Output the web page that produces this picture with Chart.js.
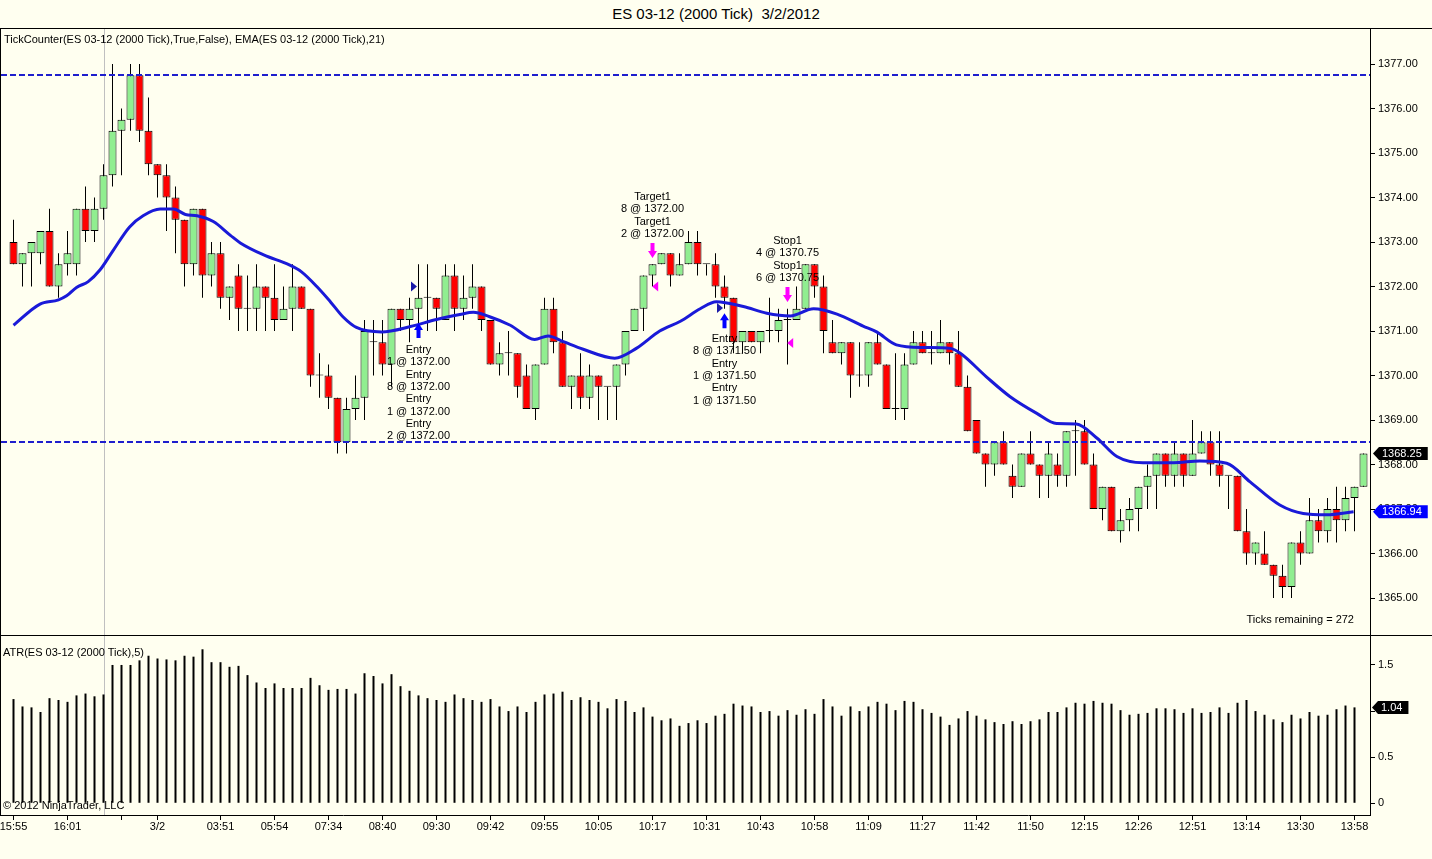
<!DOCTYPE html>
<html>
<head>
<meta charset="utf-8">
<title>ES 03-12 (2000 Tick) 3/2/2012</title>
<script src="https://cdn.jsdelivr.net/npm/chart.js@4.4.1/dist/chart.umd.min.js"></script>
<style>
  body { margin: 0; width: 1432px; height: 859px; overflow: hidden; position: relative;
         background: #fffff0; font-family: "Liberation Sans", Arial, sans-serif; color: #000; }
  .txt { position: absolute; font-size: 11px; white-space: pre; line-height: 13px; }
  .rule { position: absolute; background: #000; }
  #title { position: absolute; top: 5px; left: 0; width: 1432px; text-align: center; font-size: 15px; white-space: pre; }
  canvas { position: absolute; left: 0; }
</style>
</head>
<body>
<div id="title">ES 03-12 (2000 Tick)  3/2/2012</div>
<canvas id="priceChart" width="1432" height="607" style="top:28px"></canvas>
<canvas id="atrChart" width="1432" height="223" style="top:636px"></canvas>
<div class="rule" style="left:0;top:28px;width:1432px;height:1px"></div>
<div class="rule" style="left:0;top:635px;width:1432px;height:1px"></div>
<div class="rule" style="left:0;top:28px;width:1px;height:788px"></div>
<div class="txt" style="left:4px;top:33px">TickCounter(ES 03-12 (2000 Tick),True,False), EMA(ES 03-12 (2000 Tick),21)</div>
<div class="txt" style="left:3px;top:646px">ATR(ES 03-12 (2000 Tick),5)</div>
<div class="txt" style="left:3px;top:799px">© 2012 NinjaTrader, LLC</div>
<div class="txt" style="right:78px;top:613px">Ticks remaining = 272</div>
<script>
// 2000-tick bars (0.25 point ticks)
const opens = [
  1373, 1372.5, 1372.75, 1372.75, 1373.25, 1372, 1372.5, 1372.5, 1373.75, 1373.25,
  1373.75, 1374.5, 1375.5, 1375.75, 1376.75, 1375.5, 1374.75, 1374.5, 1374, 1373.5,
  1372.5, 1373.75, 1372.25, 1372.75, 1371.75, 1372.25, 1371.5, 1371.5, 1372, 1371.75,
  1371.25, 1371.5, 1372, 1371.5, 1370, 1370, 1369.5, 1368.5, 1369.25, 1369.5,
  1370.75, 1370.75, 1370.25, 1371.5, 1371.25, 1371.5, 1371.75, 1371.75, 1371.25, 1372.25,
  1371.5, 1371.75, 1372, 1371.25, 1370.25, 1370.5, 1370.5, 1370, 1369.25, 1370.25,
  1371.5, 1370.75, 1369.75, 1370, 1369.5, 1370, 1369.75, 1369.75, 1370.25, 1371,
  1371.5, 1372.25, 1372.5, 1372.75, 1372.25, 1372.5, 1373, 1372.5, 1372.5, 1372,
  1371.75, 1370.75, 1371, 1370.75, 1371, 1371, 1371.25, 1371.25, 1371.5, 1372.5,
  1372, 1370.75, 1370.5, 1370.75, 1370, 1370, 1370.75, 1370.25, 1369.25, 1369.25,
  1370.25, 1370.75, 1370.5, 1370.5, 1370.75, 1370.5, 1369.75, 1369, 1368.25, 1368,
  1368.5, 1367.75, 1367.5, 1368.25, 1368, 1367.75, 1368, 1367.75, 1368.75, 1368.75,
  1368, 1367, 1367.5, 1366.5, 1366.75, 1367, 1367.5, 1367.75, 1368.25, 1367.75,
  1368.25, 1367.75, 1368.25, 1368.5, 1368, 1367.75, 1367.75, 1366.5, 1366, 1366,
  1365.75, 1365.5, 1365.25, 1366.25, 1366, 1366.75, 1366.5, 1367, 1366.75, 1367.25,
  1367.5
];
const highs = [
  1373.5, 1372.75, 1373, 1373.25, 1373.75, 1372.75, 1373.25, 1373.75, 1374.25, 1374,
  1374.75, 1377, 1376, 1377, 1377, 1376.25, 1374.75, 1374.75, 1374.25, 1373.5,
  1373.75, 1373.75, 1373, 1373, 1372, 1372.5, 1372.25, 1372.5, 1372, 1372.5,
  1372, 1372.5, 1372, 1371.5, 1370.5, 1370.25, 1369.5, 1369.5, 1370, 1371.25,
  1371.25, 1371.25, 1371.5, 1371.5, 1371.75, 1372.5, 1372.5, 1371.75, 1372.5, 1372.5,
  1372.25, 1372.5, 1372, 1371.25, 1370.75, 1371, 1370.5, 1370.25, 1370.25, 1371.75,
  1371.75, 1371, 1370, 1370.5, 1370.25, 1370, 1369.75, 1370.25, 1371, 1371.5,
  1372.25, 1372.5, 1372.75, 1372.75, 1372.75, 1373.25, 1373.25, 1372.5, 1372.75, 1372.25,
  1371.75, 1371, 1371, 1371, 1371.75, 1371.5, 1371.5, 1372, 1372.5, 1372.5,
  1372.25, 1371.25, 1370.75, 1370.75, 1370.75, 1370.75, 1371, 1370.25, 1370.5, 1370.5,
  1371, 1371, 1371, 1371.25, 1370.75, 1371, 1370, 1369, 1368.25, 1368.5,
  1368.75, 1368, 1368.25, 1368.75, 1368, 1368.5, 1368.25, 1368.75, 1369, 1369,
  1368.25, 1367.5, 1367.5, 1367, 1367.25, 1367.5, 1368, 1368.25, 1368.25, 1368.5,
  1368.25, 1369, 1368.75, 1368.75, 1368.75, 1367.75, 1367.75, 1367, 1366.25, 1366.5,
  1365.75, 1365.75, 1366.25, 1366.5, 1367.25, 1367, 1367.25, 1367.5, 1367.5, 1367.5,
  1368.25
];
const lows = [
  1372.5, 1372, 1372, 1372.5, 1372, 1371.75, 1372.25, 1372.25, 1373, 1373,
  1373.5, 1374.25, 1374.5, 1375.5, 1375.25, 1374.5, 1374, 1373.25, 1372.75, 1372,
  1372.25, 1371.75, 1372, 1371.5, 1371.25, 1371, 1371, 1371, 1371, 1371,
  1371.25, 1371, 1371.5, 1369.75, 1369.5, 1369.25, 1368.25, 1368.25, 1369, 1369,
  1370, 1370, 1369.75, 1371, 1370.75, 1371, 1371, 1371, 1371.25, 1371,
  1371.25, 1371.5, 1371, 1370.25, 1370, 1370, 1369.5, 1369.25, 1369, 1370.25,
  1370.5, 1369.75, 1369.25, 1369.25, 1369.25, 1369, 1369, 1369, 1370, 1371,
  1371, 1372, 1372.5, 1372, 1372.25, 1372.5, 1372.25, 1372.25, 1371.75, 1371.5,
  1370.5, 1370.5, 1370.75, 1370.5, 1370.75, 1370.75, 1370.25, 1371.25, 1371.5, 1371.75,
  1370.5, 1370.5, 1370.25, 1369.5, 1369.75, 1369.75, 1370.25, 1369.25, 1369, 1369,
  1370.25, 1370.5, 1370.25, 1370.5, 1370.25, 1369.75, 1368.75, 1368.25, 1367.5, 1367.75,
  1368, 1367.25, 1367.5, 1368, 1367.25, 1367.25, 1367.5, 1367.5, 1367.75, 1368,
  1367, 1366.75, 1366.5, 1366.25, 1366.5, 1366.5, 1367, 1367, 1367.5, 1367.5,
  1367.5, 1367.75, 1368.25, 1367.75, 1367.5, 1367, 1366.5, 1365.75, 1365.75, 1365.75,
  1365, 1365, 1365, 1365.75, 1366, 1366.25, 1366.25, 1366.25, 1366.5, 1366.5,
  1367.5
];
const closes = [
  1372.5, 1372.75, 1373, 1373.25, 1372, 1372.5, 1372.75, 1373.75, 1373.25, 1373.75,
  1374.5, 1375.5, 1375.75, 1376.75, 1375.5, 1374.75, 1374.5, 1374, 1373.5, 1372.5,
  1373.75, 1372.25, 1372.75, 1371.75, 1372, 1371.5, 1371.5, 1372, 1371.75, 1371.25,
  1371.5, 1372, 1371.5, 1370, 1370, 1369.5, 1368.5, 1369.25, 1369.5, 1371,
  1370.75, 1370.25, 1371.5, 1371.25, 1371.5, 1371.75, 1371.75, 1371.5, 1372.25, 1371.5,
  1371.75, 1372, 1371.25, 1370.25, 1370.5, 1370.5, 1369.75, 1369.25, 1370.25, 1371.5,
  1370.75, 1369.75, 1370, 1369.5, 1370, 1369.75, 1369.75, 1370.25, 1371, 1371.5,
  1372.25, 1372.5, 1372.75, 1372.25, 1372.5, 1373, 1372.5, 1372.5, 1372, 1371.75,
  1370.75, 1371, 1370.75, 1371, 1371, 1371.25, 1371.25, 1371.5, 1372.5, 1372,
  1371, 1370.5, 1370.75, 1370, 1370, 1370.75, 1370.25, 1369.25, 1369.25, 1370.25,
  1370.75, 1370.5, 1370.5, 1370.75, 1370.5, 1369.75, 1368.75, 1368.25, 1368, 1368.5,
  1368, 1367.5, 1368.25, 1368, 1367.75, 1368.25, 1367.75, 1368.75, 1368.75, 1368,
  1367, 1367.5, 1366.5, 1366.75, 1367, 1367.5, 1367.75, 1368.25, 1367.75, 1368.25,
  1367.75, 1368.25, 1368.5, 1368, 1367.75, 1367.75, 1366.5, 1366, 1366.25, 1365.75,
  1365.5, 1365.25, 1366.25, 1366, 1366.75, 1366.5, 1367, 1366.75, 1367.25, 1367.5,
  1368.25
];

// ATR(5) per bar; the forming last bar has none yet
const atrValues = [
  1.13, 1.05, 1.04, 0.99, 1.14, 1.12, 1.10, 1.17, 1.19, 1.16,
  1.18, 1.50, 1.50, 1.50, 1.55, 1.60, 1.57, 1.56, 1.55, 1.60,
  1.59, 1.67, 1.53, 1.53, 1.48, 1.49, 1.39, 1.31, 1.25, 1.30,
  1.25, 1.25, 1.25, 1.36, 1.28, 1.23, 1.24, 1.24, 1.19, 1.41,
  1.38, 1.30, 1.40, 1.27, 1.22, 1.17, 1.14, 1.12, 1.10, 1.18,
  1.14, 1.12, 1.10, 1.13, 1.05, 1.00, 1.05, 0.99, 1.10, 1.18,
  1.19, 1.21, 1.12, 1.15, 1.12, 1.10, 1.03, 1.13, 1.11, 0.99,
  1.04, 0.94, 0.90, 0.92, 0.84, 0.87, 0.90, 0.87, 0.95, 0.97,
  1.08, 1.06, 1.05, 0.99, 1.00, 0.95, 1.01, 0.96, 1.02, 0.97,
  1.13, 1.05, 0.95, 1.05, 1.00, 1.05, 1.10, 1.08, 1.01, 1.11,
  1.10, 1.02, 0.98, 0.94, 0.85, 0.92, 1.00, 0.95, 0.91, 0.88,
  0.86, 0.89, 0.86, 0.89, 0.91, 0.99, 0.99, 1.04, 1.09, 1.08,
  1.11, 1.09, 1.08, 1.01, 0.96, 0.97, 0.98, 1.03, 1.03, 1.02,
  0.98, 1.03, 0.98, 0.99, 1.04, 0.98, 1.09, 1.12, 1.00, 0.96,
  0.91, 0.88, 0.96, 0.92, 0.99, 0.95, 0.96, 1.02, 1.06, 1.04,
  null
];

// EMA(21) line, sampled along the drawn curve (bar position, price)
const emaAt = [
  1, 3.9, 6, 6.9, 8, 9.3, 10.6, 12.1, 13.9, 15.4,
  17.3, 18.8, 20.1, 21.4, 23.2, 25.1, 26.2, 28.8, 31.7, 33.0,
  34.7, 36.2, 37.6, 39.1, 41.9, 45.1, 48.0, 50.6, 52.1, 53.9,
  56.2, 58.9, 60.4, 62.1, 64.3, 67.8, 70.2, 72.8, 75.1, 77.3,
  79.1, 82.1, 84.7, 87.3, 89.9, 92.5, 95.4, 96.9, 99.1, 102.1,
  105.1, 106.2, 109.1, 111.7, 114.7, 116.9, 119.1, 121.4, 123.6, 126.5,
  129.9, 132.8, 135.8, 138.4, 141.7, 144.3, 146.9, 149.9
];
const emaValues = [
  1371.13, 1371.6, 1371.70, 1371.79, 1371.98, 1372.11, 1372.37, 1372.82, 1373.34, 1373.59,
  1373.74, 1373.74, 1373.62, 1373.59, 1373.46, 1373.15, 1372.98, 1372.71, 1372.48, 1372.33,
  1372.0, 1371.66, 1371.32, 1371.08, 1370.98, 1371.10, 1371.26, 1371.37, 1371.42, 1371.32,
  1371.13, 1370.81, 1370.89, 1370.76, 1370.59, 1370.39, 1370.61, 1371.00, 1371.22, 1371.50,
  1371.66, 1371.55, 1371.40, 1371.34, 1371.50, 1371.38, 1371.11, 1370.98, 1370.69, 1370.63,
  1370.61, 1370.50, 1369.97, 1369.53, 1369.15, 1368.92, 1368.91, 1368.59, 1368.18, 1368.04,
  1368.04, 1368.08, 1368.03, 1367.61, 1367.09, 1366.90, 1366.87, 1366.94
];

const priceTicks = [1365, 1366, 1367, 1368, 1369, 1370, 1371, 1372, 1373, 1374, 1375, 1376, 1377];
const atrTicks = [0, 0.5, 1, 1.5];
const timeTickAt = [1, 7, 13, 17, 24, 30, 36, 42, 48, 54, 60, 66, 72, 78, 84, 90, 96, 102, 108, 114, 120, 126, 132, 138, 144, 150];
const timeTickLabels = ['15:55', '16:01', '', '3/2', '03:51', '05:54', '07:34', '08:40', '09:30', '09:42', '09:55', '10:05', '10:17',
  '10:31', '10:43', '10:58', '11:09', '11:27', '11:42', '11:50', '12:15', '12:26', '12:51', '13:14', '13:30', '13:58'];
const levelLines = [1376.75, 1368.5];
const sessionBreakAt = 11;

// strategy executions
const markers = [
  { kind: 'up', at: 46, price: 1371.18, color: '#0000ff' },
  { kind: 'right', at: 45.5, price: 1372.0, color: '#1a1aa8' },
  { kind: 'down', at: 72, price: 1372.64, color: '#ff00ff' },
  { kind: 'left', at: 72.3, price: 1372.0, color: '#ff00ff' },
  { kind: 'up', at: 80, price: 1371.4, color: '#0000ff' },
  { kind: 'right', at: 79.5, price: 1371.52, color: '#1a1aa8' },
  { kind: 'down', at: 87, price: 1371.65, color: '#ff00ff' },
  { kind: 'left', at: 87.3, price: 1370.73, color: '#ff00ff' }
];
const notes = [
  { at: 72, price: 1374.01, lines: ['Target1', '8 @ 1372.00', 'Target1', '2 @ 1372.00'] },
  { at: 46, price: 1370.57, lines: ['Entry', '1 @ 1372.00', 'Entry', '8 @ 1372.00', 'Entry', '1 @ 1372.00', 'Entry', '2 @ 1372.00'] },
  { at: 80, price: 1370.82, lines: ['Entry', '8 @ 1371.50', 'Entry', '1 @ 1371.50', 'Entry', '1 @ 1371.50'] },
  { at: 87, price: 1373.02, lines: ['Stop1', '4 @ 1370.75', 'Stop1', '6 @ 1370.75'] }
];

const FONT = '"Liberation Sans", Arial, sans-serif';
Chart.defaults.font.family = FONT;
Chart.defaults.font.size = 11;
Chart.defaults.color = '#000';

const barIndex = closes.map((_, i) => i + 1);
const xMin = -0.3889, xMax = 151.7222;
const upColor = '#90ee90', downColor = '#ff0000';

// keep the plot area at its full size (no label overhang padding)
function fixVertical(s) { s.width = 62; s.paddingTop = 0; s.paddingBottom = 0; }
function fixHorizontal(s) { s.height = 44; s.paddingLeft = 0; s.paddingRight = 0; }

function drawTag(ctx, left, mid, text, fill) {
  ctx.font = '11px ' + FONT;
  const w = ctx.measureText(text).width + 9;
  ctx.fillStyle = fill;
  ctx.beginPath();
  ctx.moveTo(left, mid);
  ctx.lineTo(left + 6, mid - 6.5);
  ctx.lineTo(left + 6 + w, mid - 6.5);
  ctx.lineTo(left + 6 + w, mid + 6.5);
  ctx.lineTo(left + 6, mid + 6.5);
  ctx.closePath();
  ctx.fill();
  ctx.fillStyle = '#fff';
  ctx.textAlign = 'left';
  ctx.textBaseline = 'middle';
  ctx.fillText(text, left + 9, mid + 0.5);
}

function drawArrow(ctx, cx, tipY, dir, color) {
  // dir 1: points up (shaft below tip), -1: points down
  const len = 15, headH = 7, headW = 4.5, shaftW = 2;
  ctx.fillStyle = color;
  ctx.beginPath();
  ctx.moveTo(cx, tipY);
  ctx.lineTo(cx + headW, tipY + dir * headH);
  ctx.lineTo(cx + shaftW, tipY + dir * headH);
  ctx.lineTo(cx + shaftW, tipY + dir * len);
  ctx.lineTo(cx - shaftW, tipY + dir * len);
  ctx.lineTo(cx - shaftW, tipY + dir * headH);
  ctx.lineTo(cx - headW, tipY + dir * headH);
  ctx.closePath();
  ctx.fill();
}

function drawTriangle(ctx, cx, cy, dir, color) {
  // dir 1: points right, -1: points left
  ctx.fillStyle = color;
  ctx.beginPath();
  ctx.moveTo(cx + dir * 3, cy);
  ctx.lineTo(cx - dir * 3, cy - 5);
  ctx.lineTo(cx - dir * 3, cy + 5);
  ctx.closePath();
  ctx.fill();
}

function sessionLine(chart) {
  const { ctx, chartArea: a, scales: { x } } = chart;
  const sx = Math.round(x.getPixelForValue(sessionBreakAt)) + 0.5;
  ctx.save();
  ctx.strokeStyle = '#c0c0c0';
  ctx.lineWidth = 1;
  ctx.beginPath();
  ctx.moveTo(sx, a.top);
  ctx.lineTo(sx, a.bottom);
  ctx.stroke();
  ctx.restore();
}

const priceExtras = {
  id: 'priceExtras',
  beforeDatasetsDraw(chart) { sessionLine(chart); },
  afterDatasetsDraw(chart) {
    const { ctx, chartArea: a, scales: { x, y } } = chart;
    ctx.save();
    // dashed price levels
    ctx.strokeStyle = '#1e1ecd';
    ctx.lineWidth = 2;
    ctx.setLineDash([6, 3]);
    levelLines.forEach(v => {
      const py = Math.round(y.getPixelForValue(v));
      ctx.beginPath();
      ctx.moveTo(a.left, py);
      ctx.lineTo(a.right, py);
      ctx.stroke();
    });
    ctx.setLineDash([]);
    // execution markers
    markers.forEach(m => {
      const px = x.getPixelForValue(m.at), py = y.getPixelForValue(m.price);
      if (m.kind === 'up') drawArrow(ctx, px, py, 1, m.color);
      else if (m.kind === 'down') drawArrow(ctx, px, py, -1, m.color);
      else drawTriangle(ctx, px, py, m.kind === 'right' ? 1 : -1, m.color);
    });
    // execution notes
    ctx.fillStyle = '#000';
    ctx.font = '11px ' + FONT;
    ctx.textAlign = 'center';
    ctx.textBaseline = 'middle';
    notes.forEach(n => {
      const px = x.getPixelForValue(n.at), py = y.getPixelForValue(n.price);
      n.lines.forEach((t, i) => ctx.fillText(t, px, py + i * 12.3));
    });
    ctx.restore();
  },
  afterDraw(chart) {
    const { ctx, chartArea: a, scales: { y } } = chart;
    ctx.save();
    drawTag(ctx, a.right + 3, y.getPixelForValue(closes[closes.length - 1]), closes[closes.length - 1].toFixed(2), '#000');
    drawTag(ctx, a.right + 3, y.getPixelForValue(emaValues[emaValues.length - 1]), emaValues[emaValues.length - 1].toFixed(2), '#0000ff');
    ctx.restore();
  }
};

const atrExtras = {
  id: 'atrExtras',
  beforeDatasetsDraw(chart) { sessionLine(chart); },
  afterDraw(chart) {
    const { ctx, chartArea: a, scales: { y } } = chart;
    const last = atrValues.filter(v => v !== null).pop();
    ctx.save();
    drawTag(ctx, a.right + 2, y.getPixelForValue(last), last.toFixed(2), '#000');
    ctx.restore();
  }
};

new Chart(document.getElementById('priceChart'), {
  type: 'bar',
  data: {
    datasets: [
      {
        type: 'line',
        label: 'EMA(21)',
        data: emaAt.map((v, i) => ({ x: v, y: emaValues[i] })),
        borderColor: '#1a1ad8',
        borderWidth: 3,
        pointRadius: 0,
        cubicInterpolationMode: 'monotone',
        order: 0
      },
      {
        label: 'body',
        data: barIndex.map(i => ({ x: i, y: [opens[i - 1], closes[i - 1]] })),
        backgroundColor: barIndex.map(i => closes[i - 1] >= opens[i - 1] ? upColor : downColor),
        borderColor: '#000',
        borderWidth: 1,
        borderSkipped: false,
        barThickness: 8,
        minBarLength: 1,
        inflateAmount: 0,
        grouped: false,
        order: 1
      },
      {
        label: 'wick',
        data: barIndex.map(i => ({ x: i, y: [lows[i - 1], highs[i - 1]] })),
        backgroundColor: '#000',
        borderWidth: 0,
        barThickness: 1,
        inflateAmount: 0,
        grouped: false,
        order: 2
      }
    ]
  },
  options: {
    responsive: false,
    animation: false,
    layout: { padding: { left: 1, top: 1, right: 0, bottom: 0 } },
    plugins: { legend: { display: false }, tooltip: { enabled: false } },
    scales: {
      x: { type: 'linear', min: xMin, max: xMax, offset: false, display: false, grid: { offset: false } },
      y: {
        position: 'right',
        min: 1364.169,
        max: 1377.787,
        afterBuildTicks: s => { s.ticks = priceTicks.map(v => ({ value: v })); },
        afterFit: fixVertical,
        ticks: { callback: v => Number(v).toFixed(2), padding: 3, color: '#000' },
        grid: { drawOnChartArea: false, tickLength: 5, color: '#000' },
        border: { color: '#000' }
      }
    }
  },
  plugins: [priceExtras]
});

new Chart(document.getElementById('atrChart'), {
  type: 'bar',
  data: {
    datasets: [{
      label: 'ATR(5)',
      data: barIndex.map(i => ({ x: i, y: atrValues[i - 1] })),
      backgroundColor: '#000',
      borderWidth: 0,
      barThickness: 2,
      inflateAmount: 0
    }]
  },
  options: {
    responsive: false,
    animation: false,
    layout: { padding: { left: 1, top: 0, right: 0, bottom: 0 } },
    plugins: { legend: { display: false }, tooltip: { enabled: false } },
    scales: {
      x: {
        type: 'linear', min: xMin, max: xMax, offset: false,
        afterBuildTicks: s => { s.ticks = timeTickAt.map(v => ({ value: v })); },
        afterFit: fixHorizontal,
        ticks: { autoSkip: false, maxRotation: 0, padding: 0, color: '#000', callback: (v, i) => timeTickLabels[i] },
        grid: { drawOnChartArea: false, tickLength: 5, color: '#000', offset: false },
        border: { color: '#000' }
      },
      y: {
        position: 'right',
        min: -0.127,
        max: 1.814,
        afterBuildTicks: s => { s.ticks = atrTicks.map(v => ({ value: v })); },
        afterFit: fixVertical,
        ticks: { callback: v => String(v), padding: 3, color: '#000' },
        grid: { drawOnChartArea: false, tickLength: 5, color: '#000' },
        border: { color: '#000' }
      }
    }
  },
  plugins: [atrExtras]
});
</script>
</body>
</html>
